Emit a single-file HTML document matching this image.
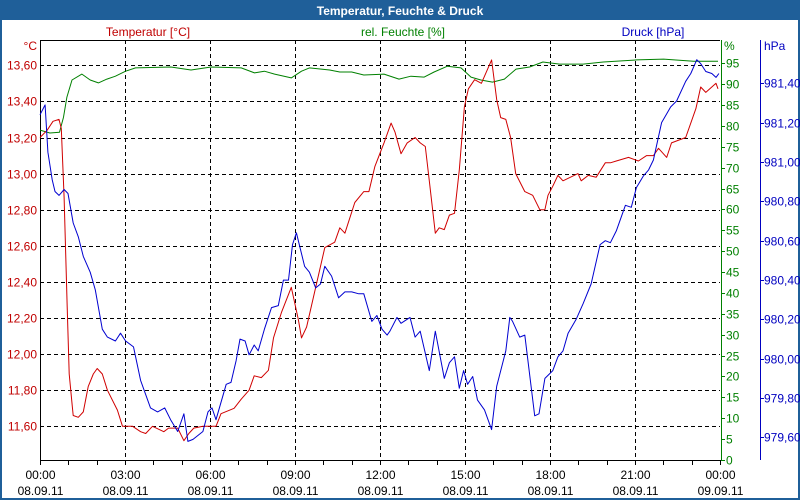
<!DOCTYPE html>
<html><head><meta charset="utf-8"><style>
html,body{margin:0;padding:0;background:#fff;}
#wrap{position:relative;width:800px;height:500px;overflow:hidden;font-family:"Liberation Sans",sans-serif;}
svg text{font-family:"Liberation Sans",sans-serif;font-size:12px;}
</style></head><body>
<div id="wrap">
<svg id="chart" width="800" height="500">
<rect x="0" y="0" width="800" height="500" fill="#1f5f99"/>
<rect x="2" y="20" width="796" height="478" fill="#fff"/>
<text x="400" y="15" text-anchor="middle" fill="#fff" font-weight="bold">Temperatur, Feuchte &amp; Druck</text>
<text x="148" y="36" text-anchor="middle" fill="#c00000">Temperatur [°C]</text>
<text x="403" y="36" text-anchor="middle" fill="#008000">rel. Feuchte [%]</text>
<text x="653" y="36" text-anchor="middle" fill="#0000c0">Druck [hPa]</text>
<text x="37" y="50" text-anchor="end" fill="#c00000">°C</text>
<text x="724" y="50" fill="#008000">%</text>
<text x="764" y="50" fill="#0000c0">hPa</text>
<g id="grid"></g>
<g id="axes"></g>
<g id="series"></g>
</svg>
</div>
<script>
const tTime=[0,0.25,0.46,0.67,0.75,0.85,0.96,1.03,1.14,1.17,1.35,1.53,1.70,1.88,2.02,2.20,2.38,2.73,2.91,3.27,3.55,3.73,3.97,4.37,4.54,4.86,5.08,5.25,5.43,5.75,6.21,6.39,6.85,7.10,7.38,7.56,7.81,8.06,8.24,8.52,8.87,9.12,9.23,9.41,10.05,10.40,10.58,10.76,11.11,11.43,11.61,11.82,12.14,12.39,12.53,12.74,12.96,13.24,13.42,13.60,13.74,13.95,14.09,14.27,14.45,14.63,14.80,14.98,15.12,15.34,15.58,15.94,16.12,16.26,16.44,16.61,16.79,17.11,17.39,17.64,17.82,17.93,18.10,18.28,18.46,18.99,19.10,19.35,19.63,19.95,20.13,20.34,20.77,21.12,21.41,21.65,21.83,22.12,22.29,22.79,23.15,23.32,23.50,23.86,23.93];
const tempValues=[13.20,13.24,13.29,13.30,13.25,12.87,12.26,11.89,11.71,11.66,11.65,11.68,11.82,11.89,11.92,11.89,11.80,11.69,11.60,11.60,11.57,11.56,11.60,11.57,11.59,11.59,11.52,11.56,11.59,11.60,11.60,11.67,11.70,11.75,11.80,11.88,11.87,11.91,12.09,12.23,12.37,12.19,12.09,12.15,12.59,12.62,12.70,12.67,12.84,12.90,12.90,13.04,13.17,13.28,13.23,13.11,13.17,13.20,13.17,13.15,12.96,12.67,12.70,12.69,12.77,12.78,13.02,13.37,13.47,13.52,13.50,13.63,13.41,13.31,13.30,13.20,13.00,12.90,12.88,12.80,12.80,12.88,12.93,12.99,12.96,13.00,12.96,12.99,12.98,13.06,13.06,13.07,13.09,13.07,13.10,13.10,13.14,13.09,13.17,13.20,13.36,13.48,13.45,13.50,13.47];
const pTime=[0,0.18,0.28,0.43,0.53,0.67,0.85,0.99,1.17,1.35,1.53,1.77,1.95,2.20,2.38,2.66,2.84,3.02,3.30,3.55,3.90,4.15,4.40,4.61,4.86,5.08,5.22,5.40,5.75,5.93,6.07,6.21,6.57,6.74,6.92,7.06,7.24,7.38,7.56,7.70,7.92,8.17,8.41,8.59,8.77,8.91,9.05,9.34,9.51,9.73,9.90,10.05,10.29,10.54,10.76,11.00,11.25,11.43,11.71,11.89,12.07,12.25,12.35,12.60,12.74,13.06,13.24,13.42,13.74,13.95,14.27,14.45,14.63,14.80,14.95,15.09,15.27,15.44,15.69,15.94,16.12,16.44,16.58,16.68,16.93,17.11,17.46,17.61,17.82,18.10,18.28,18.46,18.64,18.92,19.17,19.45,19.77,19.95,20.13,20.34,20.66,20.87,21.05,21.30,21.48,21.65,21.94,22.26,22.47,22.79,22.97,23.18,23.32,23.50,23.71,23.86,23.96];
const pressValues=[981.24,981.29,981.05,980.91,980.85,980.83,980.86,980.84,980.69,980.62,980.52,980.44,980.35,980.15,980.11,980.09,980.13,980.09,980.06,979.89,979.75,979.73,979.75,979.69,979.63,979.72,979.58,979.59,979.63,979.73,979.75,979.69,979.87,979.88,979.99,980.10,980.09,980.02,980.07,980.04,980.15,980.26,980.27,980.40,980.40,980.58,980.64,980.47,980.44,980.36,980.38,980.47,980.42,980.31,980.34,980.34,980.33,980.33,980.19,980.22,980.15,980.12,980.14,980.21,980.18,980.21,980.11,980.14,979.94,980.14,979.90,979.98,980.01,979.85,979.94,979.87,979.91,979.79,979.74,979.64,979.86,980.04,980.21,980.19,980.11,980.12,979.71,979.72,979.90,979.94,980.01,980.04,980.13,980.20,980.28,980.38,980.58,980.60,980.59,980.65,980.78,980.77,980.87,980.93,980.96,981.01,981.20,981.28,981.31,981.41,981.45,981.52,981.50,981.46,981.45,981.43,981.45];
const hTime=[0,0.35,0.69,0.83,0.95,1.13,1.48,1.77,2.06,2.36,2.66,3.02,3.37,4.62,5.33,6.04,7.10,7.57,7.92,8.28,8.87,9.23,9.51,10.22,10.58,11.00,11.43,12.14,12.67,13.09,13.56,13.91,14.38,14.86,15.21,15.56,15.97,16.39,16.80,17.28,17.75,18.34,19.17,19.88,21.06,22.01,23.07,23.93];
const humValues=[79.0,78.3,78.5,82.1,86.9,91.0,92.4,91.0,90.3,91.2,91.9,93.1,93.9,94.1,93.4,94.1,93.9,92.7,93.1,92.4,91.5,93.1,93.9,93.4,92.9,92.9,92.2,92.4,91.2,91.9,91.7,92.9,94.3,93.9,91.7,91.0,90.5,91.2,93.6,94.1,95.3,94.8,94.8,95.3,95.8,96.0,95.5,95.5];
const tempTicks=[11.6,11.8,12.0,12.2,12.4,12.6,12.8,13.0,13.2,13.4,13.6];
const humTicks=[0,5,10,15,20,25,30,35,40,45,50,55,60,65,70,75,80,85,90,95];
const pressTicks=[979.6,979.8,980.0,980.2,980.4,980.6,980.8,981.0,981.2,981.4];
const timeTicks=[0,3,6,9,12,15,18,21,24];
const timeLabels=["00:00","03:00","06:00","09:00","12:00","15:00","18:00","21:00","00:00"];
const dateLabels=["08.09.11","08.09.11","08.09.11","08.09.11","08.09.11","08.09.11","08.09.11","08.09.11","09.09.11"];

const L=40,R=720,T=40,B=460;
const xS=h=>L+h*(R-L)/24;
const yT=v=>65.3+(13.6-v)*180.5;
const yH=v=>460-v*4.176;
const yP=v=>83.3+(981.4-v)*196.75;
const NS='http://www.w3.org/2000/svg';
function mk(tag,attrs,parent){const e=document.createElementNS(NS,tag);for(const k in attrs)e.setAttribute(k,attrs[k]);parent.appendChild(e);return e;}
const grid=document.getElementById('grid'),axes=document.getElementById('axes'),series=document.getElementById('series');

tempTicks.forEach((v,i)=>{
  const y=Math.round(yT(v))+0.5;
  const g=mk('line',{x1:L,x2:R,y1:y,y2:y,stroke:'#000','stroke-dasharray':'4,3','stroke-width':1},grid);
  
  
  const t=mk('text',{x:37,y:y+4,'text-anchor':'end',fill:'#c00000'},axes);
  
  
  t.textContent=v.toFixed(2).replace('.',',');
});
timeTicks.forEach((h,i)=>{
  const x=Math.round(xS(h))+0.5;
  if(i>0&&i<timeTicks.length-1){
    const g=mk('line',{x1:x,x2:x,y1:T,y2:B,stroke:'#000','stroke-dasharray':'4,3','stroke-width':1},grid);
    
    
  }
  const t1=mk('text',{x:x,y:479,'text-anchor':'middle',fill:'#000'},axes);
  
  
  t1.textContent=timeLabels[i];
  const t2=mk('text',{x:x,y:495,'text-anchor':'middle',fill:'#000'},axes);
  
  
  t2.textContent=dateLabels[i];
});
for(let h=0;h<=24;h++){
  const x=Math.round(xS(h))+0.5;
  const tk=mk('line',{x1:x,x2:x,y1:B,y2:B+5,stroke:'#000'},axes);
  
  
}
const frameT=mk('line',{x1:L,x2:R,y1:T+0.5,y2:T+0.5,stroke:'#000'},axes);


const frameL=mk('line',{x1:L+0.5,x2:L+0.5,y1:T,y2:B,stroke:'#000'},axes);


const frameB=mk('line',{x1:L,x2:R,y1:B+0.5,y2:B+0.5,stroke:'#000'},axes);


const hAx=mk('line',{x1:R+1.5,x2:R+1.5,y1:T,y2:B,stroke:'#008000'},axes);


humTicks.forEach(v=>{
  const y=Math.round(yH(v))+0.5;
  const tk=mk('line',{x1:R+1,x2:R+5,y1:y,y2:y,stroke:'#008000'},axes);
  
  
  const t=mk('text',{x:726,y:y+4,fill:'#008000'},axes);
  
  
  t.textContent=String(v);
});
const pAx=mk('line',{x1:760.5,x2:760.5,y1:T,y2:B,stroke:'#0000c0'},axes);


pressTicks.forEach(v=>{
  const y=Math.round(yP(v))+0.5;
  const tk=mk('line',{x1:760,x2:764,y1:y,y2:y,stroke:'#0000c0'},axes);
  
  
  const t=mk('text',{x:764,y:y+4,fill:'#0000c0'},axes);
  
  
  t.textContent=v.toFixed(2).replace('.',',');
});
function line(ts,vs,ys,color,name){
  const d=ts.map((h,i)=>(i?'L':'M')+xS(h).toFixed(1)+','+ys(vs[i]).toFixed(1)).join('');
  const p=mk('path',{d:d,fill:'none',stroke:color,'stroke-width':1,'stroke-linejoin':'round'},series);
  
  
}
line(hTime,humValues,yH,'#008000','humidity-line');
line(tTime,tempValues,yT,'#d00000','temperature-line');
line(pTime,pressValues,yP,'#0000d0','pressure-line');
</script>
</body></html>
